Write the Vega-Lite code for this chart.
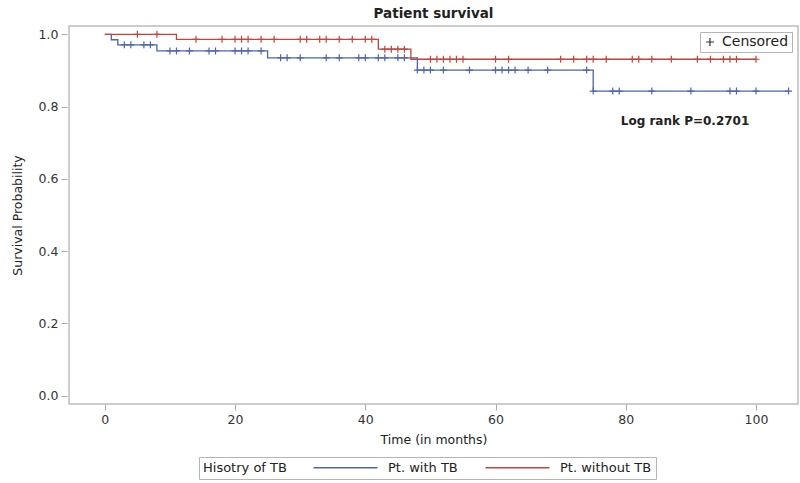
{
  "$schema": "https://vega.github.io/schema/vega-lite/v6.json",
  "width": 729,
  "height": 378,
  "autosize": {"type": "none"},
  "padding": {"left": 69, "top": 26, "right": 2, "bottom": 79},
  "background": "white",
  "title": {"text": "Patient survival", "font": "DejaVu Sans", "fontSize": 13.5, "fontWeight": "bold", "color": "#222", "offset": 6, "anchor": "middle"},
  "config": {
    "view": {"stroke": "#bdbdbd", "strokeWidth": 1.5},
    "axis": {"domain": false, "grid": false, "tickColor": "#aaa", "tickSize": 6, "labelFont": "DejaVu Sans", "labelFontSize": 12.5, "labelColor": "#333", "titleFont": "DejaVu Sans", "titleFontWeight": "normal", "titleFontSize": 12.5, "titleColor": "#222"}
  },
  "datasets": {
    "curve": [
      {"group": "Pt. with TB", "time": 0, "surv": 1.0},
      {"group": "Pt. with TB", "time": 1, "surv": 0.985},
      {"group": "Pt. with TB", "time": 2, "surv": 0.971},
      {"group": "Pt. with TB", "time": 8, "surv": 0.954},
      {"group": "Pt. with TB", "time": 25, "surv": 0.935},
      {"group": "Pt. with TB", "time": 48, "surv": 0.901},
      {"group": "Pt. with TB", "time": 75, "surv": 0.843},
      {"group": "Pt. with TB", "time": 105, "surv": 0.843},
      {"group": "Pt. without TB", "time": 0, "surv": 1.0},
      {"group": "Pt. without TB", "time": 11, "surv": 0.986},
      {"group": "Pt. without TB", "time": 42, "surv": 0.959},
      {"group": "Pt. without TB", "time": 47, "surv": 0.931},
      {"group": "Pt. without TB", "time": 100, "surv": 0.931}
    ],
    "censor": [
      {"group": "Pt. with TB", "time": 3, "surv": 0.971, "status": "Censored"},
      {"group": "Pt. with TB", "time": 4, "surv": 0.971, "status": "Censored"},
      {"group": "Pt. with TB", "time": 6, "surv": 0.971, "status": "Censored"},
      {"group": "Pt. with TB", "time": 7, "surv": 0.971, "status": "Censored"},
      {"group": "Pt. with TB", "time": 10, "surv": 0.954, "status": "Censored"},
      {"group": "Pt. with TB", "time": 11, "surv": 0.954, "status": "Censored"},
      {"group": "Pt. with TB", "time": 13, "surv": 0.954, "status": "Censored"},
      {"group": "Pt. with TB", "time": 16, "surv": 0.954, "status": "Censored"},
      {"group": "Pt. with TB", "time": 17, "surv": 0.954, "status": "Censored"},
      {"group": "Pt. with TB", "time": 20, "surv": 0.954, "status": "Censored"},
      {"group": "Pt. with TB", "time": 21, "surv": 0.954, "status": "Censored"},
      {"group": "Pt. with TB", "time": 22, "surv": 0.954, "status": "Censored"},
      {"group": "Pt. with TB", "time": 24, "surv": 0.954, "status": "Censored"},
      {"group": "Pt. with TB", "time": 27, "surv": 0.935, "status": "Censored"},
      {"group": "Pt. with TB", "time": 28, "surv": 0.935, "status": "Censored"},
      {"group": "Pt. with TB", "time": 30, "surv": 0.935, "status": "Censored"},
      {"group": "Pt. with TB", "time": 34, "surv": 0.935, "status": "Censored"},
      {"group": "Pt. with TB", "time": 36, "surv": 0.935, "status": "Censored"},
      {"group": "Pt. with TB", "time": 39, "surv": 0.935, "status": "Censored"},
      {"group": "Pt. with TB", "time": 40, "surv": 0.935, "status": "Censored"},
      {"group": "Pt. with TB", "time": 42, "surv": 0.935, "status": "Censored"},
      {"group": "Pt. with TB", "time": 43, "surv": 0.935, "status": "Censored"},
      {"group": "Pt. with TB", "time": 45, "surv": 0.935, "status": "Censored"},
      {"group": "Pt. with TB", "time": 46, "surv": 0.935, "status": "Censored"},
      {"group": "Pt. with TB", "time": 48, "surv": 0.901, "status": "Censored"},
      {"group": "Pt. with TB", "time": 49, "surv": 0.901, "status": "Censored"},
      {"group": "Pt. with TB", "time": 50, "surv": 0.901, "status": "Censored"},
      {"group": "Pt. with TB", "time": 52, "surv": 0.901, "status": "Censored"},
      {"group": "Pt. with TB", "time": 56, "surv": 0.901, "status": "Censored"},
      {"group": "Pt. with TB", "time": 60, "surv": 0.901, "status": "Censored"},
      {"group": "Pt. with TB", "time": 61, "surv": 0.901, "status": "Censored"},
      {"group": "Pt. with TB", "time": 62, "surv": 0.901, "status": "Censored"},
      {"group": "Pt. with TB", "time": 63, "surv": 0.901, "status": "Censored"},
      {"group": "Pt. with TB", "time": 65, "surv": 0.901, "status": "Censored"},
      {"group": "Pt. with TB", "time": 68, "surv": 0.901, "status": "Censored"},
      {"group": "Pt. with TB", "time": 74, "surv": 0.901, "status": "Censored"},
      {"group": "Pt. with TB", "time": 75, "surv": 0.843, "status": "Censored"},
      {"group": "Pt. with TB", "time": 78, "surv": 0.843, "status": "Censored"},
      {"group": "Pt. with TB", "time": 79, "surv": 0.843, "status": "Censored"},
      {"group": "Pt. with TB", "time": 84, "surv": 0.843, "status": "Censored"},
      {"group": "Pt. with TB", "time": 90, "surv": 0.843, "status": "Censored"},
      {"group": "Pt. with TB", "time": 96, "surv": 0.843, "status": "Censored"},
      {"group": "Pt. with TB", "time": 97, "surv": 0.843, "status": "Censored"},
      {"group": "Pt. with TB", "time": 100, "surv": 0.843, "status": "Censored"},
      {"group": "Pt. with TB", "time": 105, "surv": 0.843, "status": "Censored"},
      {"group": "Pt. without TB", "time": 5, "surv": 1.0, "status": "Censored"},
      {"group": "Pt. without TB", "time": 8, "surv": 1.0, "status": "Censored"},
      {"group": "Pt. without TB", "time": 14, "surv": 0.986, "status": "Censored"},
      {"group": "Pt. without TB", "time": 18, "surv": 0.986, "status": "Censored"},
      {"group": "Pt. without TB", "time": 20, "surv": 0.986, "status": "Censored"},
      {"group": "Pt. without TB", "time": 21, "surv": 0.986, "status": "Censored"},
      {"group": "Pt. without TB", "time": 22, "surv": 0.986, "status": "Censored"},
      {"group": "Pt. without TB", "time": 24, "surv": 0.986, "status": "Censored"},
      {"group": "Pt. without TB", "time": 26, "surv": 0.986, "status": "Censored"},
      {"group": "Pt. without TB", "time": 30, "surv": 0.986, "status": "Censored"},
      {"group": "Pt. without TB", "time": 31, "surv": 0.986, "status": "Censored"},
      {"group": "Pt. without TB", "time": 33, "surv": 0.986, "status": "Censored"},
      {"group": "Pt. without TB", "time": 34, "surv": 0.986, "status": "Censored"},
      {"group": "Pt. without TB", "time": 36, "surv": 0.986, "status": "Censored"},
      {"group": "Pt. without TB", "time": 38, "surv": 0.986, "status": "Censored"},
      {"group": "Pt. without TB", "time": 40, "surv": 0.986, "status": "Censored"},
      {"group": "Pt. without TB", "time": 41, "surv": 0.986, "status": "Censored"},
      {"group": "Pt. without TB", "time": 43, "surv": 0.959, "status": "Censored"},
      {"group": "Pt. without TB", "time": 44, "surv": 0.959, "status": "Censored"},
      {"group": "Pt. without TB", "time": 45, "surv": 0.959, "status": "Censored"},
      {"group": "Pt. without TB", "time": 46, "surv": 0.959, "status": "Censored"},
      {"group": "Pt. without TB", "time": 50, "surv": 0.931, "status": "Censored"},
      {"group": "Pt. without TB", "time": 51, "surv": 0.931, "status": "Censored"},
      {"group": "Pt. without TB", "time": 52, "surv": 0.931, "status": "Censored"},
      {"group": "Pt. without TB", "time": 53, "surv": 0.931, "status": "Censored"},
      {"group": "Pt. without TB", "time": 54, "surv": 0.931, "status": "Censored"},
      {"group": "Pt. without TB", "time": 55, "surv": 0.931, "status": "Censored"},
      {"group": "Pt. without TB", "time": 60, "surv": 0.931, "status": "Censored"},
      {"group": "Pt. without TB", "time": 62, "surv": 0.931, "status": "Censored"},
      {"group": "Pt. without TB", "time": 70, "surv": 0.931, "status": "Censored"},
      {"group": "Pt. without TB", "time": 72, "surv": 0.931, "status": "Censored"},
      {"group": "Pt. without TB", "time": 74, "surv": 0.931, "status": "Censored"},
      {"group": "Pt. without TB", "time": 75, "surv": 0.931, "status": "Censored"},
      {"group": "Pt. without TB", "time": 77, "surv": 0.931, "status": "Censored"},
      {"group": "Pt. without TB", "time": 81, "surv": 0.931, "status": "Censored"},
      {"group": "Pt. without TB", "time": 82, "surv": 0.931, "status": "Censored"},
      {"group": "Pt. without TB", "time": 84, "surv": 0.931, "status": "Censored"},
      {"group": "Pt. without TB", "time": 87, "surv": 0.931, "status": "Censored"},
      {"group": "Pt. without TB", "time": 91, "surv": 0.931, "status": "Censored"},
      {"group": "Pt. without TB", "time": 93, "surv": 0.931, "status": "Censored"},
      {"group": "Pt. without TB", "time": 95, "surv": 0.931, "status": "Censored"},
      {"group": "Pt. without TB", "time": 96, "surv": 0.931, "status": "Censored"},
      {"group": "Pt. without TB", "time": 97, "surv": 0.931, "status": "Censored"},
      {"group": "Pt. without TB", "time": 100, "surv": 0.931, "status": "Censored"}
    ],
    "note": [
      {"time": 89.1, "surv": 0.76, "label": "Log rank P=0.2701"}
    ]
  },
  "layer": [
    {
      "data": {"name": "curve"},
      "mark": {"type": "line", "interpolate": "step-after", "strokeWidth": 1.3},
      "encoding": {
        "x": {"field": "time", "type": "quantitative", "scale": {"domain": [-5.5, 106.45], "nice": false, "zero": false},
              "axis": {"values": [0, 20, 40, 60, 80, 100], "title": "Time (in months)", "labelPadding": 3, "titlePadding": 8}},
        "y": {"field": "surv", "type": "quantitative", "scale": {"domain": [-0.023, 1.023], "nice": false, "zero": false},
              "axis": {"values": [0, 0.2, 0.4, 0.6, 0.8, 1.0], "format": ".1f", "title": "Survival Probability", "offset": 2, "labelPadding": 3, "titlePadding": 14}},
        "color": {"field": "group", "type": "nominal",
                  "scale": {"domain": ["Pt. with TB", "Pt. without TB"], "range": ["#4e64ad", "#c2443a"]},
                  "legend": {"orient": "none", "legendX": 130, "legendY": 431, "direction": "horizontal", "title": "Hisotry of TB", "titleOrient": "left", "titleAnchor": "middle", "titleBaseline": "middle", "titleFont": "DejaVu Sans", "titleFontWeight": "normal", "titleFontSize": 13, "titleColor": "#222", "titlePadding": 24, "labelFont": "DejaVu Sans", "labelFontSize": 13, "labelColor": "#222", "labelOffset": 64, "symbolType": "M-1,0L15,0", "symbolSize": 64, "symbolStrokeWidth": 1.5, "columnPadding": 24, "strokeColor": "#b5b5b5", "padding": 4}}
      }
    },
    {
      "data": {"name": "censor"},
      "mark": {"type": "point", "filled": false, "strokeWidth": 1.2, "size": 49, "opacity": 1},
      "encoding": {
        "x": {"field": "time", "type": "quantitative"},
        "y": {"field": "surv", "type": "quantitative"},
        "stroke": {"field": "group", "type": "nominal", "scale": {"domain": ["Pt. with TB", "Pt. without TB"], "range": ["#4e64ad", "#c2443a"]}, "legend": null},
        "shape": {"field": "status", "type": "nominal", "scale": {"domain": ["Censored"], "range": ["M-1,0L1,0M0,-1L0,1"]},
                  "legend": {"orient": "top-right", "title": null, "offset": 6, "strokeColor": "#b5b5b5", "padding": 3, "labelFont": "DejaVu Sans", "labelFontSize": 14, "labelColor": "#222", "symbolStrokeColor": "#333", "symbolFillColor": "transparent", "symbolSize": 64, "symbolStrokeWidth": 1.2, "labelOffset": 5}}
      }
    },
    {
      "data": {"name": "note"},
      "mark": {"type": "text", "font": "DejaVu Sans", "fontSize": 12, "fontWeight": "bold", "color": "#222"},
      "encoding": {
        "x": {"field": "time", "type": "quantitative"},
        "y": {"field": "surv", "type": "quantitative"},
        "text": {"field": "label"}
      }
    }
  ]
}
